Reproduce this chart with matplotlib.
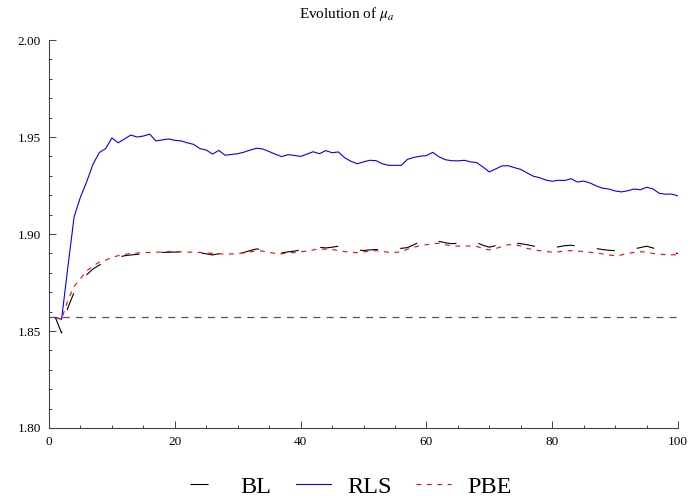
import matplotlib
matplotlib.use('Agg')
import matplotlib.pyplot as plt
from matplotlib.ticker import MultipleLocator, FormatStrFormatter

# iteration index
steps = list(range(1, 101))

# estimated mu_a, baseline (BL)
bl = [1.857, 1.849, 1.862, 1.870, 1.875, 1.879, 1.882, 1.884, 1.8855, 1.887,
      1.888, 1.8888, 1.8892, 1.8895, 1.8898, 1.890, 1.8903, 1.8905, 1.8906, 1.8907,
      1.8907, 1.8906, 1.8904, 1.8902, 1.8898, 1.8892, 1.8898, 1.8892, 1.8894, 1.8899,
      1.8905, 1.8915, 1.8923, 1.8918, 1.891, 1.8903, 1.8902, 1.8908, 1.8912, 1.8918,
      1.8928, 1.8937, 1.8932, 1.8928, 1.8932, 1.8937, 1.8932, 1.8925, 1.8918, 1.8915,
      1.8918, 1.892, 1.8921, 1.8922, 1.8924, 1.8926, 1.893, 1.8945, 1.896, 1.8968,
      1.8973, 1.8962, 1.8955, 1.895, 1.8952, 1.8958, 1.8959, 1.8955, 1.8942, 1.8932,
      1.894, 1.895, 1.8958, 1.8955, 1.895, 1.8945, 1.8938, 1.893, 1.8926, 1.8928,
      1.8934, 1.894, 1.8942, 1.8938, 1.8934, 1.893, 1.8925, 1.892, 1.8916, 1.8914,
      1.8913, 1.8918, 1.8923, 1.893, 1.8937, 1.8928, 1.8918, 1.8908, 1.8902, 1.890]

# recursive least squares (RLS)
rls = [1.857, 1.856, 1.883, 1.909, 1.919, 1.927, 1.936, 1.942, 1.944, 1.9495,
       1.947, 1.949, 1.951, 1.950, 1.9505, 1.9515, 1.948, 1.9485, 1.949, 1.9483,
       1.948, 1.947, 1.9462, 1.944, 1.9433, 1.9412, 1.9431, 1.9406, 1.941, 1.9414,
       1.9422, 1.9433, 1.9442, 1.9438, 1.9425, 1.9411, 1.9399, 1.9409, 1.9405, 1.940,
       1.9412, 1.9424, 1.9414, 1.943, 1.9419, 1.9423, 1.9393, 1.9375, 1.9362, 1.9372,
       1.938, 1.9378, 1.9362, 1.9354, 1.9354, 1.9354, 1.9385, 1.9395, 1.9401, 1.9404,
       1.9421, 1.9398, 1.9383, 1.9378, 1.9377, 1.938, 1.9372, 1.9368, 1.9345, 1.932,
       1.9335, 1.9351, 1.9352, 1.9342, 1.9333, 1.9315, 1.9298, 1.929, 1.9278, 1.9272,
       1.9277, 1.9276, 1.9285, 1.9268, 1.9273, 1.9263, 1.9248, 1.9236, 1.9232, 1.9222,
       1.9217, 1.9223, 1.9232, 1.9228, 1.9241, 1.9233, 1.921, 1.9205, 1.9206, 1.9196]

# PBE
pbe = [1.857, 1.856, 1.866, 1.873, 1.877, 1.881, 1.8835, 1.8855, 1.8865, 1.888,
       1.8888, 1.8895, 1.890, 1.8902, 1.8904, 1.8905, 1.8906, 1.8908, 1.8909, 1.8909,
       1.8908, 1.8907, 1.8906, 1.8905, 1.8903, 1.890, 1.8898, 1.8896, 1.8897, 1.8899,
       1.8903, 1.8908, 1.8914, 1.8912, 1.8905, 1.890, 1.8898, 1.8902, 1.8905, 1.8908,
       1.8912, 1.8918, 1.8922, 1.8922, 1.892, 1.8915, 1.8909, 1.8906, 1.8904, 1.8908,
       1.8912, 1.8914, 1.891, 1.8906, 1.8906, 1.8907, 1.8922, 1.8932, 1.894, 1.8945,
       1.895, 1.8952, 1.8945, 1.8938, 1.8938, 1.8938, 1.8938, 1.8936, 1.8925, 1.8918,
       1.8925, 1.8935, 1.8945, 1.8945, 1.8938, 1.8926, 1.892, 1.8914, 1.891, 1.8906,
       1.8908, 1.8913, 1.8914, 1.8912, 1.891, 1.8906, 1.8902, 1.8897, 1.8892, 1.8888,
       1.8892, 1.890, 1.8905, 1.8909, 1.8906, 1.890, 1.8896, 1.8894, 1.8893, 1.8893]

true_mu = 1.857

plt.rcParams['font.family'] = ['Liberation Serif', 'DejaVu Serif']
plt.rcParams['mathtext.fontset'] = 'stix'
plt.rcParams['lines.scale_dashes'] = False

fig = plt.figure(figsize=(6.94, 5.04), dpi=100)
ax = fig.add_axes([0.0706, 0.1508, 0.9064, 0.7698])

ax.axhline(true_mu, color='#555555', lw=0.9, dashes=(5, 4.5), zorder=1)
ax.plot(steps, bl, color='black', lw=0.8, dashes=(13, 16), label='BL', zorder=2)
ax.plot(steps, rls, color='#0000ff', lw=0.8, label='RLS', zorder=3)
ax.plot(steps, pbe, color='#ff0000', lw=0.8, dashes=(3.5, 4), label='PBE', zorder=4)

ax.set_xlim(0, 100)
ax.set_ylim(1.80, 2.00)
ax.xaxis.set_major_locator(MultipleLocator(20))
ax.xaxis.set_minor_locator(MultipleLocator(5))
ax.yaxis.set_major_locator(MultipleLocator(0.05))
ax.yaxis.set_minor_locator(MultipleLocator(0.01))
ax.yaxis.set_major_formatter(FormatStrFormatter('%.2f'))

for side in ['top', 'right']:
    ax.spines[side].set_visible(False)
for side in ['left', 'bottom']:
    ax.spines[side].set_color('#444444')
    ax.spines[side].set_linewidth(0.8)

ax.tick_params(which='both', direction='in', colors='#444444', labelcolor='black',
               labelsize=9.5, width=0.7)
ax.tick_params(which='major', length=5, pad=6)
ax.tick_params(which='minor', length=2.5)

fig.text(0.499, 0.972, r'Evolution of $\mu_a$', ha='center', va='center', fontsize=11)

fig.legend(loc='center', bbox_to_anchor=(0.505, 0.034), ncol=3, frameon=False,
           fontsize=17.5, handlelength=1.44, handletextpad=0.66, columnspacing=1.0)

fig.savefig('out.png', dpi=100)
